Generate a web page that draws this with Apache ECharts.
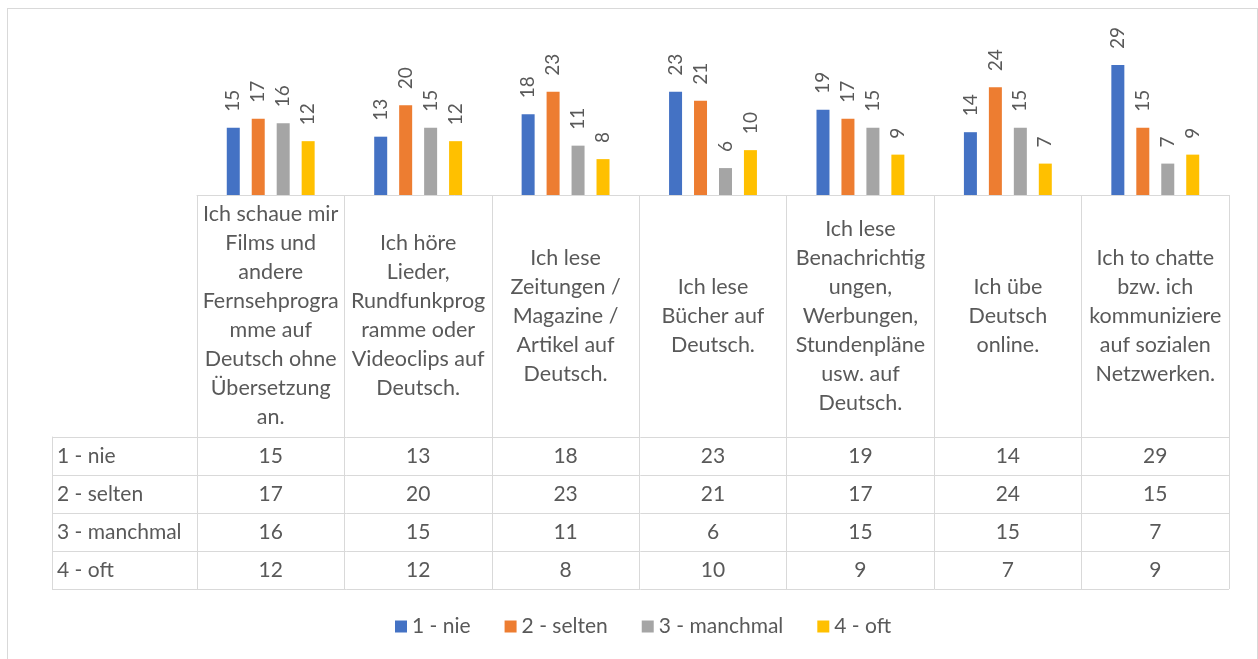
<!DOCTYPE html>
<html><head><meta charset="utf-8">
<script src="https://cdn.jsdelivr.net/npm/echarts@6/dist/echarts.min.js"></script>
<style>
html,body{margin:0;padding:0;background:#fff;overflow:hidden}
#frame{position:absolute;left:7px;top:8px;width:1251px;height:700px;border:1px solid #d9d9d9;box-sizing:border-box}
#c{position:absolute;left:0;top:0;width:1258px;height:659px}
</style></head>
<body><div id="frame"></div><div id="c"></div>
<script>
const categories = [
  'Ich schaue mir\nFilms und\nandere\nFernsehprogra\nmme auf\nDeutsch ohne\nÜbersetzung\nan.',
  'Ich höre\nLieder,\nRundfunkprog\nramme oder\nVideoclips auf\nDeutsch.',
  'Ich lese\nZeitungen /\nMagazine /\nArtikel auf\nDeutsch.',
  'Ich lese\nBücher auf\nDeutsch.',
  'Ich lese\nBenachrichtig\nungen,\nWerbungen,\nStundenpläne\nusw. auf\nDeutsch.',
  'Ich übe\nDeutsch\nonline.',
  'Ich to chatte\nbzw. ich\nkommuniziere\nauf sozialen\nNetzwerken.'
];
const seriesNames = ['1 - nie', '2 - selten', '3 - manchmal', '4 - oft'];
const nie      = [15, 13, 18, 23, 19, 14, 29];
const selten   = [17, 20, 23, 21, 17, 24, 15];
const manchmal = [16, 15, 11, 6, 15, 15, 7];
const oft      = [12, 12, 8, 10, 9, 7, 9];
const colors = ['#4472C4', '#ED7D31', '#A5A5A5', '#FFC000'];

const rows = [nie, selten, manchmal, oft];
const FONT = 'Lato';
const TXT = '#595959';
const LINE = '#d9d9d9';
const FS = 21;

const tableAxes = rows.map((vals, k) => ({
  type: 'category', gridIndex: 0, position: 'bottom', data: categories,
  axisLine: {show: false}, axisTick: {show: false}, splitLine: {show: false},
  axisLabel: {
    interval: 0, margin: 261 + 38 * k, verticalAlign: 'middle',
    fontSize: FS, fontFamily: FONT, color: TXT,
    formatter: (v, i) => String(vals[i])
  }
}));

const option = {
  animation: false,
  color: colors,
  grid: [
    {left: 197, right: 29, top: 38, bottom: 464},
    {left: 52, right: 29, top: 437, bottom: 70}
  ],
  xAxis: [
    {
      type: 'category', gridIndex: 0, position: 'bottom', data: categories,
      axisLine: {show: true, lineStyle: {color: LINE, width: 1}},
      axisTick: {show: true, length: 394, lineStyle: {color: LINE, width: 1}},
      splitLine: {show: false},
      axisLabel: {
        interval: 0, margin: 121, verticalAlign: 'middle', align: 'center',
        fontSize: 21.5, lineHeight: 29, fontFamily: FONT, color: TXT
      }
    },
    ...tableAxes,
    {type: 'category', gridIndex: 1, data: [''], show: false}
  ],
  yAxis: [
    {type: 'value', gridIndex: 0, min: 0, max: 35, show: false, splitLine: {show: false}},
    {
      type: 'category', gridIndex: 1, data: seriesNames, inverse: true,
      axisLine: {show: true, lineStyle: {color: LINE, width: 1}},
      axisTick: {show: false},
      splitLine: {show: true, lineStyle: {color: LINE, width: 1}},
      axisLabel: {inside: true, margin: 5, fontSize: FS, fontFamily: FONT, color: TXT}
    }
  ],
  legend: {
    data: seriesNames, left: 390, top: 611,
    icon: 'rect', itemWidth: 12, itemHeight: 12, itemGap: 34, itemSpacing: 4,
    textStyle: {fontSize: FS, fontFamily: FONT, color: TXT}
  },
  series: rows.map((vals, k) => ({
    name: seriesNames[k], type: 'bar', xAxisIndex: 0, yAxisIndex: 0,
    data: vals, barWidth: 13, barGap: '92%',
    itemStyle: {color: colors[k]},
    label: {
      show: true, position: 'top', distance: 16, rotate: 90,
      align: 'left', verticalAlign: 'middle',
      fontSize: 19, fontFamily: FONT, color: TXT
    }
  }))
};
const chart = echarts.init(document.getElementById('c'), null, {renderer: 'canvas'});
chart.setOption(option);
</script>
</body></html>
